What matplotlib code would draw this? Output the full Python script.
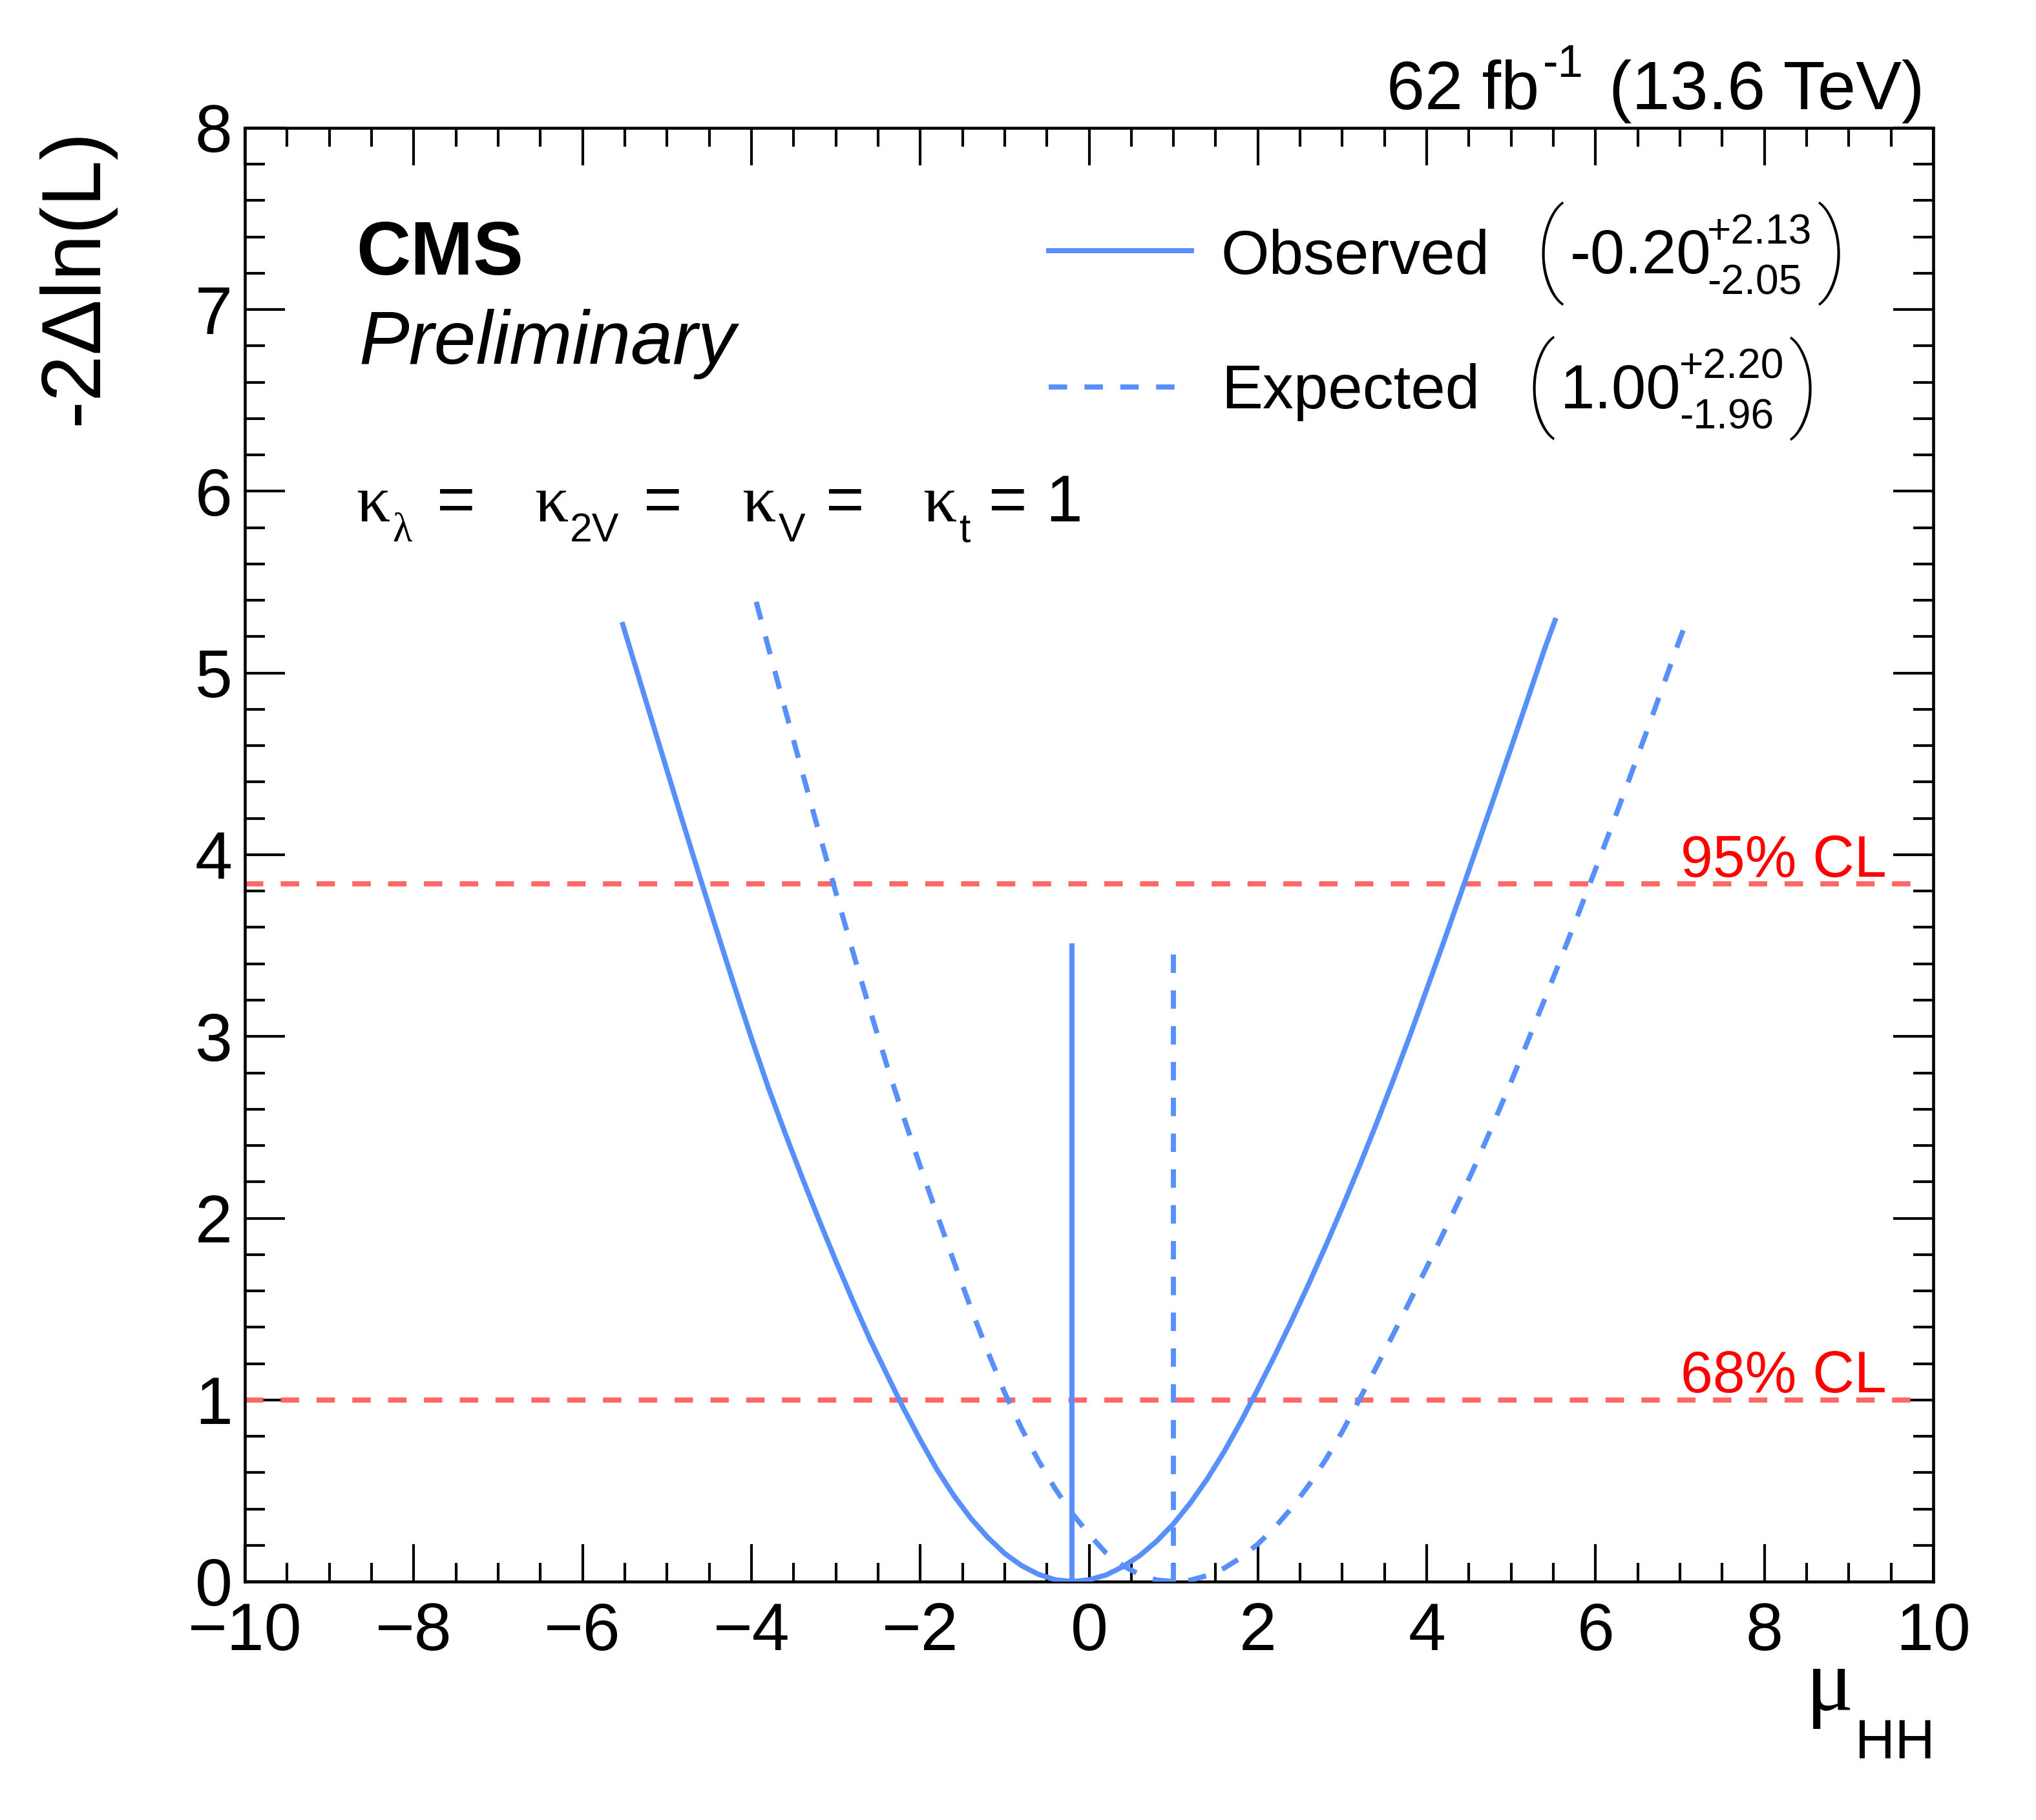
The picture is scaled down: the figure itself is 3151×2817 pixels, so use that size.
import matplotlib
matplotlib.use("Agg")
import matplotlib.pyplot as plt
from matplotlib.ticker import MultipleLocator
from matplotlib.lines import Line2D

plt.rcParams['font.family'] = ['Liberation Sans', 'DejaVu Sans']

# ---------------- data ----------------
obs_mu = [-5.524, -5.4, -5.2, -5.0, -4.8, -4.6, -4.4, -4.2, -4.0, -3.8,
          -3.6, -3.4, -3.2, -3.0, -2.8, -2.6, -2.4, -2.2, -2.0, -1.8,
          -1.6, -1.4, -1.2, -1.0, -0.8, -0.6, -0.4, -0.2, 0.0, 0.2,
          0.4, 0.6, 0.8, 1.0, 1.2, 1.4, 1.6, 1.8, 2.0, 2.2,
          2.4, 2.6, 2.8, 3.0, 3.2, 3.4, 3.6, 3.8, 4.0, 4.2,
          4.4, 4.6, 4.8, 5.0, 5.2, 5.4, 5.52]
obs_nll = [5.267, 5.077, 4.771, 4.465, 4.161, 3.861, 3.567, 3.275, 2.991, 2.719,
           2.467, 2.225, 1.991, 1.765, 1.547, 1.337, 1.145, 0.955, 0.780, 0.615,
           0.472, 0.348, 0.243, 0.155, 0.088, 0.040, 0.010, 0.000, 0.010, 0.036,
           0.082, 0.143, 0.222, 0.318, 0.433, 0.565, 0.715, 0.882, 1.060, 1.244,
           1.436, 1.636, 1.844, 2.060, 2.284, 2.516, 2.756, 3.004, 3.260, 3.519,
           3.783, 4.050, 4.319, 4.590, 4.863, 5.138, 5.290]

exp_mu = [-3.943, -3.8, -3.6, -3.4, -3.2, -3.0, -2.8, -2.6, -2.4, -2.2,
          -2.0, -1.8, -1.6, -1.4, -1.2, -1.0, -0.8, -0.6, -0.4, -0.2,
          0.0, 0.2, 0.4, 0.6, 0.8, 1.0, 1.2, 1.4, 1.6, 1.8,
          2.0, 2.2, 2.4, 2.6, 2.8, 3.0, 3.2, 3.4, 3.6, 3.8,
          4.0, 4.2, 4.4, 4.6, 4.8, 5.0, 5.2, 5.4, 5.6, 5.8,
          6.0, 6.2, 6.4, 6.6, 6.8, 7.0, 7.09]
exp_nll = [5.392, 5.143, 4.799, 4.459, 4.123, 3.793, 3.469, 3.153, 2.849, 2.561,
           2.285, 2.019, 1.759, 1.505, 1.265, 1.040, 0.843, 0.666, 0.510, 0.375,
           0.260, 0.158, 0.088, 0.038, 0.009, 0.000, 0.008, 0.033, 0.074, 0.132,
           0.207, 0.298, 0.405, 0.529, 0.669, 0.826, 1.000, 1.178, 1.358, 1.544,
           1.730, 1.920, 2.116, 2.318, 2.532, 2.752, 2.978, 3.208, 3.442, 3.680,
           3.922, 4.168, 4.418, 4.672, 4.930, 5.190, 5.300]

best_fit = {"Observed": -0.20, "Expected": 1.00}
best_fit_line_top = 3.5
cl_levels = [1.0, 3.84]
cl_labels = ["68% CL", "95% CL"]
xticks = [-10, -8, -6, -4, -2, 0, 2, 4, 6, 8, 10]
xticklabels = ["\u221210", "\u22128", "\u22126", "\u22124", "\u22122", "0", "2", "4", "6", "8", "10"]
yticks = [0, 1, 2, 3, 4, 5, 6, 7, 8]
yticklabels = ["0", "1", "2", "3", "4", "5", "6", "7", "8"]

BLUE = "#5790fc"
RED_LINE = "#ff6666"
RED_TEXT = "#ff0000"

W, H = 3151, 2817
fig = plt.figure(figsize=(W / 300, H / 300), dpi=300)


def ftxt(x, y, s, **kw):
    kw.setdefault("va", "baseline")
    kw.setdefault("ha", "left")
    return fig.text(x / W, 1 - y / H, s, **kw)


L, R, T, B = 379, 2992, 198, 2448
ax = fig.add_axes([L / W, 1 - B / H, (R - L) / W, (B - T) / H])
ax.set_xlim(-10, 10)
ax.set_ylim(0, 8)

lw = 1.9
DASH = (3.6, 3.4)
# CL lines
for lev, lab in zip(cl_levels, cl_labels):
    ax.plot([-10, 9.9], [lev, lev], color=RED_LINE, lw=lw, dashes=DASH, zorder=2)
    ax.text(9.45, lev + 0.04, lab, color=RED_TEXT, fontsize=21.5, ha="right", va="baseline")

# curves
ax.plot(obs_mu, obs_nll, color=BLUE, lw=lw, zorder=3)
ax.plot(exp_mu, exp_nll, color=BLUE, lw=lw, dashes=DASH, zorder=3)
ax.plot([best_fit["Observed"]] * 2, [0, best_fit_line_top], color=BLUE, lw=lw, zorder=3)
ax.plot([best_fit["Expected"]] * 2, [0, best_fit_line_top], color=BLUE, lw=lw,
        dashes=DASH, zorder=3)

# axes styling
for sp in ax.spines.values():
    sp.set_linewidth(1.1)
ax.set_xticks(xticks)
ax.set_xticklabels(xticklabels)
ax.set_yticks(yticks)
ax.set_yticklabels(yticklabels)
ax.xaxis.set_minor_locator(MultipleLocator(0.5))
ax.yaxis.set_minor_locator(MultipleLocator(0.2))
ax.tick_params(which="both", direction="in", top=True, right=True, width=1.0,
               labelsize=25)
ax.tick_params(axis="x", which="major", length=13.9, pad=7.5)
ax.tick_params(axis="x", which="minor", length=7.0)
ax.tick_params(axis="y", which="major", length=14.9, pad=4.6)
ax.tick_params(axis="y", which="minor", length=7.4)

# axis titles
fig.text(117 / W, 1 - 198 / H, "-2\u0394ln(L)", rotation=90, ha="center", va="top",
         fontsize=31)
ftxt(2795, 2647, "\u03bc", fontsize=33, family=["Liberation Serif", "DejaVu Serif"])
ftxt(2995, 2721, "HH", fontsize=20.5, ha="right")

# header
ftxt(2146, 169, "62 fb", fontsize=25.5)
ftxt(2388, 119, "-1", fontsize=17)
ftxt(2978, 169, "(13.6 TeV)", fontsize=25.5, ha="right")

ftxt(551, 425, "CMS", fontsize=28, fontweight="bold")
ftxt(555, 563, "Preliminary", fontsize=28, style="italic")

# coupling line
serif = ["Liberation Serif", "DejaVu Serif"]
main_bl, sub_bl = 807, 838
ftxt(551, main_bl, "\u03ba", fontsize=25, family=serif)
ftxt(607, sub_bl, "\u03bb", fontsize=15, family=serif)
ftxt(676, main_bl, "=", fontsize=24.5)
ftxt(827, main_bl, "\u03ba", fontsize=25, family=serif)
ftxt(882, sub_bl, "2V", fontsize=15)
ftxt(996, main_bl, "=", fontsize=24.5)
ftxt(1148, main_bl, "\u03ba", fontsize=25, family=serif)
ftxt(1205, sub_bl, "V", fontsize=15)
ftxt(1278, main_bl, "=", fontsize=24.5)
ftxt(1428, main_bl, "\u03ba", fontsize=25, family=serif)
ftxt(1485, sub_bl, "t", fontsize=15)
ftxt(1530, main_bl, "=", fontsize=24.5)
ftxt(1618, main_bl, "1", fontsize=24.5)

# legend
fig.add_artist(Line2D([1623 / W, 1844 / W], [1 - 388 / H, 1 - 388 / H], color=BLUE, lw=lw))
fig.add_artist(Line2D([1623 / W, 1818 / W], [1 - 599 / H, 1 - 599 / H], color=BLUE, lw=lw,
                      dashes=DASH))
ftxt(1890, 424, "Observed", fontsize=23)
ftxt(1890, 632, "Expected", fontsize=23)

brk = dict(fontsize=38, ha="center", va="center", family=["Roboto", "Lato", "Liberation Sans"],
           fontweight="light")
ftxt(2398, 392, "(", **brk)
ftxt(2836, 392, ")", **brk)
ftxt(2430, 423, "-0.20", fontsize=23)
ftxt(2642, 378, "+2.13", fontsize=15.4)
ftxt(2642, 455, "-2.05", fontsize=15.4)

ftxt(2384, 600, "(", **brk)
ftxt(2792, 601, ")", **brk)
ftxt(2415, 632, "1.00", fontsize=23)
ftxt(2599, 585, "+2.20", fontsize=15.4)
ftxt(2599, 663, "-1.96", fontsize=15.4)

fig.savefig("out.png", dpi=300)
